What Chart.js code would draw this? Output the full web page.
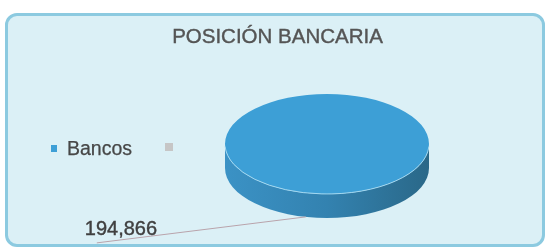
<!DOCTYPE html>
<html>
<head>
<meta charset="utf-8">
<script src="https://cdn.jsdelivr.net/npm/chart.js@4/dist/chart.umd.min.js"></script>
<style>
    body { margin: 0; background: #ffffff; }
    #wrap { position: relative; width: 548px; height: 250px; overflow: hidden; }
    .frame {
        position: absolute; left: 5px; top: 13px; width: 540px; height: 234px;
        box-sizing: border-box; border: 3px solid #8ccae0; border-radius: 12px;
        background: #dbf0f6;
    }
    #chart { position: absolute; left: 0; top: 0; }
    .chart-title {
        position: absolute; left: 0; top: 24px; width: 555px; text-align: center;
        font: 20.5px/24px "Liberation Sans", Arial, sans-serif; color: #555555;
        -webkit-text-stroke: 0.4px #555555;
    }
    #legend {
        position: absolute; left: 51px; top: 137px; display: flex; align-items: center;
        font: 19.5px/22px "Liberation Sans", Arial, sans-serif; color: #474747;
        -webkit-text-stroke: 0.25px #474747;
    }
    .legend-item { display: flex; align-items: center; margin-right: 33px; height: 22px; }
    .legend-dot { display: inline-block; width: 6px; height: 7px; margin-right: 10px; }
    .legend-item.empty .legend-dot { width: 8px; height: 8px; margin-top: -2px; }
</style>
</head>
<body>
<div id="wrap">
    <div class="frame"></div>
    <canvas id="chart" width="548" height="250"></canvas>
    <div class="chart-title">POSICIÓN BANCARIA</div>
    <div id="legend"></div>
</div>
<script>
const labels = ['Bancos', ''];
const values = [194866, 0];
const colors = ['#3d9fd6', '#c6c6c6'];

const tilt = 0.49;      // vertical squash of the pie top
const depth = 24;       // thickness of the 3D side

function renderLegend(containerId, labelList, colorList) {
    const box = document.getElementById(containerId);
    box.innerHTML = '';
    labelList.forEach((label, i) => {
        const item = document.createElement('div');
        item.className = 'legend-item' + (label ? '' : ' empty');
        item.innerHTML = `<span class="legend-dot" style="background-color: ${colorList[i]}"></span><span>${label}</span>`;
        box.appendChild(item);
    });
}

const pie3d = {
    id: 'pie3d',
    beforeDatasetsDraw(chart) {
        const arc = chart.getDatasetMeta(0).data[0];
        if (!arc) return;
        const { x, y, outerRadius: r } = arc.getProps(['x', 'y', 'outerRadius'], true);
        const ry = r * tilt;
        const ctx = chart.ctx;

        // side of the disc
        const grad = ctx.createLinearGradient(x - r, 0, x + r, 0);
        grad.addColorStop(0, '#3b92c5');
        grad.addColorStop(0.5, '#3382b0');
        grad.addColorStop(1, '#2a6888');
        ctx.save();
        ctx.beginPath();
        ctx.moveTo(x - r, y);
        ctx.lineTo(x - r, y + depth);
        ctx.ellipse(x, y + depth, r, ry, 0, Math.PI, 0, true);
        ctx.lineTo(x + r, y);
        ctx.ellipse(x, y, r, ry, 0, 0, Math.PI, false);
        ctx.closePath();
        ctx.fillStyle = grad;
        ctx.fill();
        ctx.restore();

        // squash the top face
        ctx.save();
        ctx.translate(x, y);
        ctx.scale(1, tilt);
        ctx.translate(-x, -y);
    },
    afterDatasetsDraw(chart) {
        const ctx = chart.ctx;
        ctx.restore();
        const arc = chart.getDatasetMeta(0).data[0];
        if (!arc) return;
        const { x, y, outerRadius: r } = arc.getProps(['x', 'y', 'outerRadius'], true);
        const ry = r * tilt;

        // light rim along the front edge
        ctx.save();
        ctx.beginPath();
        ctx.ellipse(x, y, r, ry, 0, 0.05, Math.PI - 0.05, false);
        ctx.strokeStyle = 'rgba(170, 220, 242, 0.9)';
        ctx.lineWidth = 1;
        ctx.stroke();

        // data label with leader line
        const a = 102 * Math.PI / 180;
        const px = x + r * Math.cos(a);
        const py = y + ry * Math.sin(a) + depth;
        ctx.beginPath();
        ctx.moveTo(px, py);
        ctx.lineTo(px - 209, py + 26);
        ctx.strokeStyle = '#b9a3ab';
        ctx.stroke();

        const text = values[0].toLocaleString('en-US');
        ctx.font = '20px "Liberation Sans", Arial, sans-serif';
        ctx.fillStyle = '#404040';
        ctx.strokeStyle = '#404040';
        ctx.lineWidth = 0.4;
        ctx.textAlign = 'left';
        ctx.textBaseline = 'alphabetic';
        ctx.fillText(text, px - 221, py + 18);
        ctx.strokeText(text, px - 221, py + 18);
        ctx.restore();
    }
};

new Chart(document.getElementById('chart').getContext('2d'), {
    type: 'pie',
    data: {
        labels: labels,
        datasets: [{
            data: values,
            backgroundColor: colors,
            borderWidth: 0,
            radius: 102,
            clip: false
        }]
    },
    options: {
        responsive: false,
        animation: false,
        layout: { padding: { left: 156, right: 50, top: 48, bottom: 10 } },
        plugins: {
            legend: { display: false },
            title: { display: false },
            tooltip: { enabled: false }
        }
    },
    plugins: [pie3d]
});

renderLegend('legend', labels, colors);
</script>
</body>
</html>
